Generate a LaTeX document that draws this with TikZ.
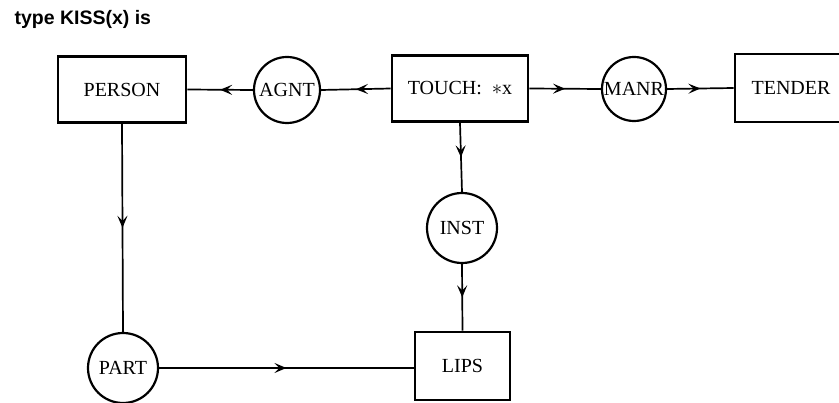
\documentclass[tikz,border=0pt]{standalone}
\usepackage{fontspec}
\setmainfont{Liberation Serif}
\newfontfamily\titlefont{Liberation Sans}
\usetikzlibrary{arrows.meta,decorations.markings}
\tikzset{
  cbox/.style={draw, line width=2.6pt, minimum height=66pt, inner sep=0pt, font=\fontsize{20}{22}\selectfont},
  crel/.style={draw, circle, line width=2.2pt, minimum size=66pt, inner sep=0pt, font=\fontsize{20}{22}\selectfont},
  link/.style={line width=1.7pt, postaction={decorate},
    decoration={markings, mark=at position 0.5 with {\arrow{Stealth[length=12pt,width=10pt,inset=5pt]}}}}
}
\begin{document}
\begin{tikzpicture}[x=1pt,y=-1pt]
\useasboundingbox (0,0) rectangle (839,403);
\node[anchor=west, font=\titlefont\bfseries\fontsize{19.5}{21}\selectfont] (title) at (11,19) {type KISS(x) is};
\node[cbox, minimum width=128pt] (person) at (122,89.5) {PERSON};
\node[crel] (agnt) at (287,90) {AGNT};
\node[cbox, minimum width=136pt] (touch) at (460,88.5) {TOUCH:\ \ $\ast$x};
\node[crel, minimum size=64pt] (manr) at (634,89) {MANR};
\node[cbox, minimum width=112pt, minimum height=68pt] (tender) at (791,88) {TENDER};
\node[crel, minimum size=70pt] (inst) at (462,228) {INST};
\node[cbox, minimum width=95pt, minimum height=68pt] (lips) at (462.5,366) {LIPS};
\node[crel, minimum size=70pt] (part) at (123,368) {PART};
\draw[link] (touch.west) -- (agnt.east);
\draw[link] (agnt.west) -- (person.east);
\draw[link] (touch.east) -- (manr.west);
\draw[link] (manr.east) -- (tender.west);
\draw[link] (touch.south) -- (inst.north);
\draw[link] (inst.south) -- (lips.north);
\draw[link] (person.south) -- (part.north);
\draw[link] (part.east) -- (lips.west |- part.east);
\end{tikzpicture}
\end{document}
